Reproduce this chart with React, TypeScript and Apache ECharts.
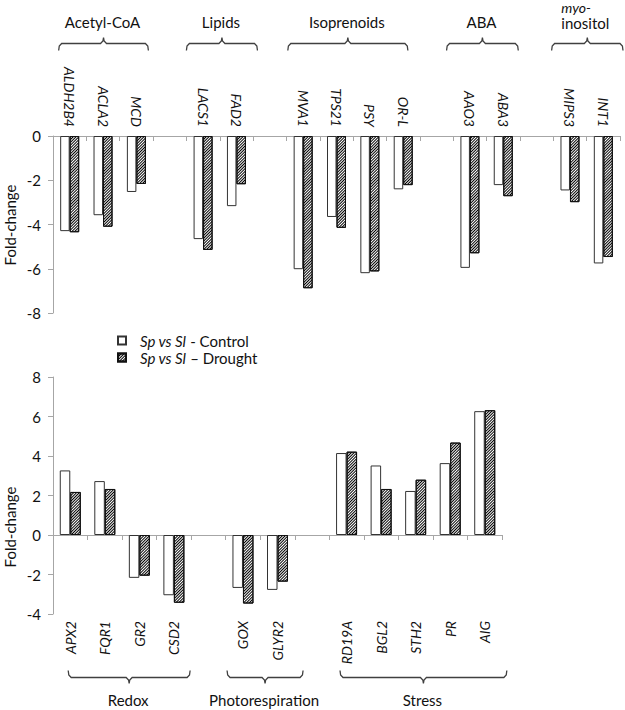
import React, { useEffect, useRef } from 'react';
import * as echarts from 'echarts';

// ---------- data ----------
const topCategories = ['ALDH2B4', 'ACLA2', 'MCD', 'gap1', 'LACS1', 'FAD2', 'gap2', 'MVA1', 'TPS21', 'PSY', 'OR-L', 'gap3', 'AAO3', 'ABA3', 'gap4', 'MIPS3', 'INT1'];
const topControl = [-4.3, -3.58, -2.53, null, -4.66, -3.17, null, -6.02, -3.66, -6.2, -2.41, null, -5.96, -2.22, null, -2.46, -5.76];
const topDrought = [-4.35, -4.1, -2.17, null, -5.15, -2.18, null, -6.88, -4.15, -6.12, -2.22, null, -5.3, -2.72, null, -2.99, -5.47];

const bottomCategories = ['APX2', 'FQR1', 'GR2', 'CSD2', 'gap5', 'GOX', 'GLYR2', 'gap6', 'RD19A', 'BGL2', 'STH2', 'PR', 'AIG'];
const bottomControl = [3.27, 2.73, -2.17, -3.05, null, -2.68, -2.78, null, 4.15, 3.52, 2.23, 3.64, 6.27];
const bottomDrought = [2.18, 2.33, -2.06, -3.43, null, -3.47, -2.36, null, 4.22, 2.33, 2.8, 4.68, 6.32];

const topYRange = [-8, 0];
const bottomYRange = [-4, 8];
const yStep = 2;

const seriesNames = ['Sp vs Sl - Control', 'Sp vs Sl \u2013 Drought'];
const yAxisTitle = 'Fold-change';

const topGroups = [
  { label: 'Acetyl-CoA', first: 'ALDH2B4', last: 'MCD' },
  { label: 'Lipids', first: 'LACS1', last: 'FAD2' },
  { label: 'Isoprenoids', first: 'MVA1', last: 'OR-L' },
  { label: 'ABA', first: 'AAO3', last: 'ABA3' },
  { label: 'inositol', prefix: 'myo-', first: 'MIPS3', last: 'INT1' },
];
const bottomGroups = [
  { label: 'Redox', first: 'APX2', last: 'CSD2' },
  { label: 'Photorespiration', first: 'GOX', last: 'GLYR2' },
  { label: 'Stress', first: 'RD19A', last: 'AIG' },
];

// ---------- style ----------
const FONT = 'Lato, "Open Sans", sans-serif';
const AXIS_GRAY = '#a6a6a6';
const TEXT = '#111';
const BRACKET = '#404040';
// bracket overhang beyond first/last category centre, in category-slot units
const topPads = [[0.33, 0.36], [0.5, 0.63], [0.46, 0.14], [0.7, 0.45], [0.55, 0.59]];
const bottomPads = [[0.06, 0.47], [0.46, 0.74], [0.19, 0.64]];

const hatch = {
  symbol: 'rect',
  symbolSize: 1,
  symbolKeepAspect: false,
  color: '#000',
  backgroundColor: '#fff',
  dashArrayX: [1, 0],
  dashArrayY: [1, 1],
  rotation: -Math.PI / 4,
};

const labelFmt = (v: string) => (v.startsWith('gap') ? '' : v);

function bracket(x1: number, x2: number, y: number, dir: number) {
  const xm = (x1 + x2) / 2;
  const pts = [
    [x1, y + 7 * dir], [x1 + 0.6, y + 2.5 * dir], [x1 + 3, y],
    [xm - 3, y], [xm - 0.6, y - 2.5 * dir], [xm, y - 6 * dir], [xm + 0.6, y - 2.5 * dir], [xm + 3, y],
    [x2 - 3, y], [x2 - 0.6, y + 2.5 * dir], [x2, y + 7 * dir],
  ];
  return {
    type: 'polyline',
    shape: { points: pts },
    style: { stroke: BRACKET, lineWidth: 1.3, fill: null },
    silent: true,
  };
}

export default function App() {
  const ref = useRef<HTMLDivElement>(null);

  useEffect(() => {
    document.body.style.margin = '0';
    if (!ref.current) return;
    const chart = echarts.init(ref.current, null, { renderer: 'svg' });

    const xLabelBase = {
      interval: 0,
      rotate: 90,
      fontFamily: FONT,
      fontSize: 14,
      fontStyle: 'italic',
      color: TEXT,
      formatter: labelFmt,
    };
    const yAxisBase = {
      type: 'value',
      interval: yStep,
      axisLine: { show: true, lineStyle: { color: AXIS_GRAY, width: 1 } },
      axisTick: { show: true, length: 5, lineStyle: { color: AXIS_GRAY } },
      axisLabel: { fontFamily: FONT, fontSize: 15, color: TEXT, margin: 12 },
      splitLine: { show: false },
    };

    const option: any = {
      animation: false,
      backgroundColor: '#fff',
      grid: [
        { left: 53, top: 136, width: 567, height: 177 },
        { left: 53, top: 377, width: 449, height: 237 },
      ],
      legend: {
        orient: 'vertical',
        left: 112,
        top: 328,
        itemWidth: 8,
        itemHeight: 8,
        itemGap: 2,
        icon: 'rect',
        data: seriesNames,
        formatter: (name: string) => `{g|}{i|${name.slice(0, 8)}}${name.slice(8)}`,
        textStyle: {
          fontFamily: FONT,
          fontSize: 15,
          color: TEXT,
          rich: {
            g: { width: 9 },
            i: { fontStyle: 'italic', fontFamily: FONT, fontSize: 15, color: TEXT },
          },
        },
      },
      xAxis: [
        {
          type: 'category',
          gridIndex: 0,
          position: 'top',
          data: topCategories,
          axisLine: { show: true, onZero: false, lineStyle: { color: AXIS_GRAY, width: 1 } },
          axisTick: { show: true, inside: true, length: 5, interval: 0, lineStyle: { color: AXIS_GRAY } },
          axisLabel: { ...xLabelBase, margin: 9 },
        },
        {
          type: 'category',
          gridIndex: 1,
          position: 'bottom',
          data: bottomCategories,
          axisLine: { show: true, onZero: true, lineStyle: { color: AXIS_GRAY, width: 1 } },
          axisTick: { show: true, length: 5, interval: 0, lineStyle: { color: AXIS_GRAY } },
          axisLabel: { show: false },
        },
        {
          type: 'category',
          gridIndex: 1,
          position: 'bottom',
          data: bottomCategories,
          axisLine: { show: false, onZero: false },
          axisTick: { show: false },
          axisLabel: { ...xLabelBase, margin: 7 },
        },
      ],
      yAxis: [
        { ...yAxisBase, gridIndex: 0, min: topYRange[0], max: topYRange[1] },
        { ...yAxisBase, gridIndex: 1, min: bottomYRange[0], max: bottomYRange[1] },
      ],
      series: [
        {
          name: seriesNames[0], type: 'bar', xAxisIndex: 0, yAxisIndex: 0, data: topControl,
          barWidth: 9.5, barGap: '0%',
          itemStyle: { color: '#fff', borderColor: '#333', borderWidth: 1 },
        },
        {
          name: seriesNames[1], type: 'bar', xAxisIndex: 0, yAxisIndex: 0, data: topDrought,
          barWidth: 9.5, barGap: '0%',
          itemStyle: { color: '#fff', borderColor: '#111', borderWidth: 1, decal: hatch },
        },
        {
          name: seriesNames[0], type: 'bar', xAxisIndex: 1, yAxisIndex: 1, data: bottomControl,
          barWidth: 10.5, barGap: '0%',
          itemStyle: { color: '#fff', borderColor: '#333', borderWidth: 1 },
        },
        {
          name: seriesNames[1], type: 'bar', xAxisIndex: 1, yAxisIndex: 1, data: bottomDrought,
          barWidth: 10.5, barGap: '0%',
          itemStyle: { color: '#fff', borderColor: '#111', borderWidth: 1, decal: hatch },
        },
      ],
    };
    chart.setOption(option);

    const graphics: any[] = [];
    const textStyle = (text: string, extra: any = {}) => ({
      text,
      fontFamily: FONT,
      fontSize: 15,
      fill: TEXT,
      align: 'center',
      verticalAlign: 'middle',
      textAlign: 'center',
      textVerticalAlign: 'middle',
      ...extra,
    });

    const addGroups = (groups: any[], pads: number[][], axisIdx: number, cats: string[], bracketY: number, dir: number, labelY: number) => {
      const slot =
        (chart.convertToPixel({ xAxisIndex: axisIdx }, cats[1]) as number) -
        (chart.convertToPixel({ xAxisIndex: axisIdx }, cats[0]) as number);
      groups.forEach((g, i) => {
        const a = chart.convertToPixel({ xAxisIndex: axisIdx }, g.first) as number;
        const b = chart.convertToPixel({ xAxisIndex: axisIdx }, g.last) as number;
        const x1 = a - pads[i][0] * slot;
        const x2 = b + pads[i][1] * slot;
        const xm = (x1 + x2) / 2;
        graphics.push(bracket(x1, x2, bracketY, dir));
        if (g.prefix) {
          graphics.push({ type: 'text', x: xm - 2, y: labelY + 1, style: textStyle(g.label), silent: true });
          graphics.push({
            type: 'text', x: xm - 26, y: labelY - 15,
            style: textStyle(g.prefix, { fontSize: 14, fontStyle: 'italic', align: 'left', textAlign: 'left' }), silent: true,
          });
        } else {
          graphics.push({ type: 'text', x: xm - 1, y: labelY, style: textStyle(g.label), silent: true });
        }
      });
    };
    addGroups(topGroups, topPads, 0, topCategories, 43.5, 1, 22);
    addGroups(bottomGroups, bottomPads, 2, bottomCategories, 677.5, -1, 700);

    graphics.push({
      type: 'text', x: 10, y: 225, rotation: Math.PI / 2,
      style: textStyle(yAxisTitle), silent: true,
    });
    graphics.push({
      type: 'text', x: 10, y: 527, rotation: Math.PI / 2,
      style: textStyle(yAxisTitle), silent: true,
    });

    chart.setOption({ graphic: graphics });

    return () => chart.dispose();
  }, []);

  return <div ref={ref} style={{ width: 625, height: 710 }} />;
}
